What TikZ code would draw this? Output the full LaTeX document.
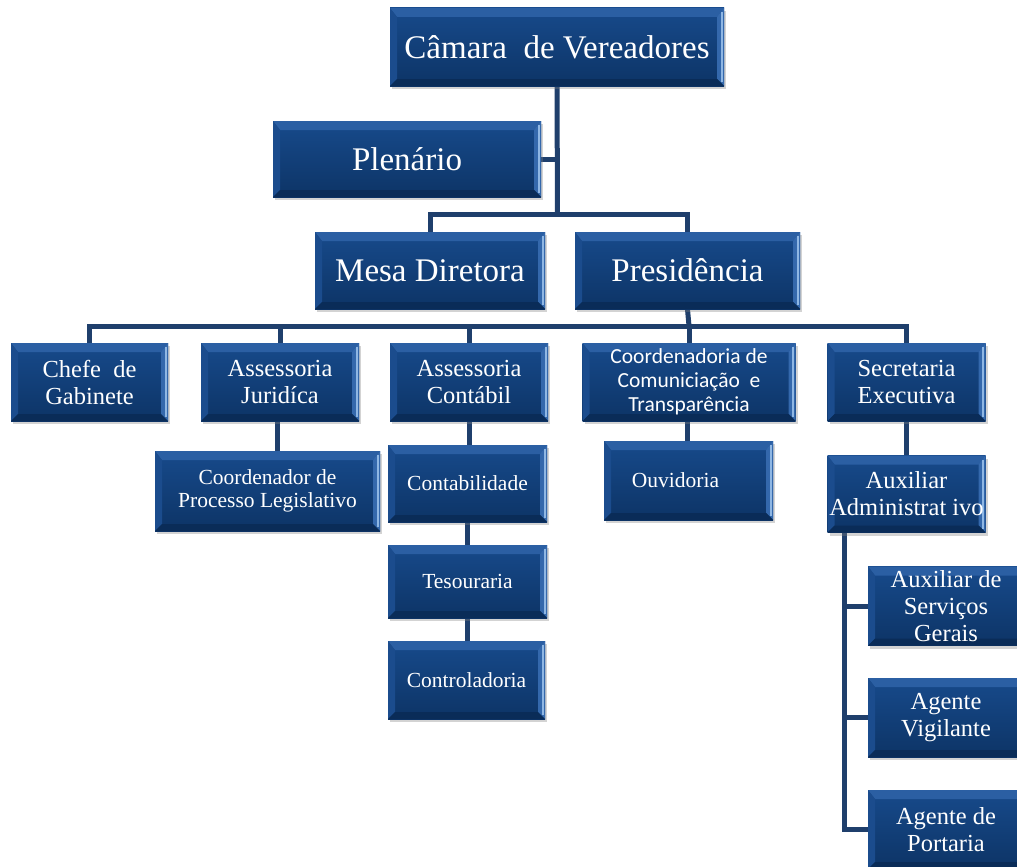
\documentclass[tikz,border=0pt]{standalone}
\usepackage{fontspec}
\setmainfont{Liberation Serif}
\newfontfamily\calfont{Carlito}
\usetikzlibrary{shadows,backgrounds}
\definecolor{boxtop}{HTML}{174A8B}
\definecolor{boxbot}{HTML}{0D3466}
\definecolor{linecol}{HTML}{1F3F6C}
\definecolor{bevtop}{HTML}{2B5FA3}
\definecolor{bevleft}{HTML}{1B4C8D}
\definecolor{bevright}{HTML}{3468AC}
\definecolor{bevbot}{HTML}{0A2C58}
\definecolor{highl}{HTML}{A6CBF2}
\tikzset{
  bevelbox/.style={rectangle, inner sep=0pt, text=white, align=center,
    top color=boxtop, bottom color=boxbot,
    drop shadow={shadow xshift=2pt, shadow yshift=-3pt, opacity=0.35},
    path picture={
      \path (path picture bounding box.north west) coordinate (bnw)
            (path picture bounding box.north east) coordinate (bne)
            (path picture bounding box.south west) coordinate (bsw)
            (path picture bounding box.south east) coordinate (bse);
      \fill[bevtop] (bnw) -- (bne) -- ([xshift=-7pt,yshift=-9pt]bne) -- ([xshift=7pt,yshift=-9pt]bnw) -- cycle;
      \fill[bevleft] (bnw) -- ([xshift=7pt,yshift=-9pt]bnw) -- ([xshift=7pt,yshift=7pt]bsw) -- (bsw) -- cycle;
      \fill[bevright] (bne) -- ([xshift=-7pt,yshift=-9pt]bne) -- ([xshift=-7pt,yshift=7pt]bse) -- (bse) -- cycle;
      \fill[bevbot] (bsw) -- ([xshift=7pt,yshift=7pt]bsw) -- ([xshift=-7pt,yshift=7pt]bse) -- (bse) -- cycle;
      \fill[highl,opacity=0.8] ([xshift=-3.5pt,yshift=-4pt]bne) rectangle ([xshift=-1.5pt,yshift=4pt]bse);
    }},
  big/.style={bevelbox, font=\fontsize{33}{36}\selectfont},
  mid/.style={bevelbox, font=\fontsize{24.5}{27}\selectfont},
  small/.style={bevelbox, font=\fontsize{21.5}{23}\selectfont},
  sans/.style={bevelbox, font=\calfont\fontsize{21.5}{24}\selectfont},
  conn/.style={draw=linecol, line width=5pt},
}
\begin{document}
\begin{tikzpicture}[x=1pt,y=-1pt]
\useasboundingbox (0,0) rectangle (1017,867);
% level 1-2
\node[big, minimum width=334pt, minimum height=78pt] (cam) at (557,47) {Câmara~ de Vereadores};
\node[big, minimum width=268pt, minimum height=76pt] (plen) at (407,159) {Plenário};
\node[big, minimum width=230pt, minimum height=77pt] (mesa) at (430,270.5) {Mesa Diretora};
\node[big, minimum width=225pt, minimum height=77pt] (pres) at (687.5,270.5) {Presidência};
% level 3
\node[mid, minimum width=157pt, minimum height=78pt] (chefe) at (89.5,382) {Chefe~ de\\Gabinete};
\node[mid, minimum width=158pt, minimum height=78pt] (jur) at (280,382) {Assessoria\\Juridíca};
\node[mid, minimum width=158pt, minimum height=78pt] (cont) at (469,382) {Assessoria\\Contábil};
\node[sans, minimum width=213pt, minimum height=78pt] (coord) at (689,382) {Coordenadoria de\\Comuniciação~ e\\Transparência};
\node[mid, minimum width=158pt, minimum height=78pt] (sec) at (906.5,382) {Secretaria\\Executiva};
% level 4
\node[small, minimum width=225pt, minimum height=80pt] (cpl) at (267.5,491) {Coordenador de\\Processo Legislativo};
\node[small, minimum width=159pt, minimum height=77pt] (ctb) at (467.5,483.5) {Contabilidade};
\node[small, minimum width=159pt, minimum height=73pt] (tes) at (467.5,581.5) {Tesouraria};
\node[small, minimum width=157pt, minimum height=78pt] (ctl) at (466.5,680) {Controladoria};
\node[small, minimum width=169pt, minimum height=79pt] (ouv) at (688.5,480.5) {Ouvidoria\hspace*{26pt}};
\node[mid, minimum width=158pt, minimum height=77pt] (aux) at (906.5,494) {Auxiliar\\Administrat ivo};
\node[mid, minimum width=156pt, minimum height=79pt] (asg) at (946,606) {Auxiliar de\\Serviços\\Gerais};
\node[mid, minimum width=156pt, minimum height=79pt] (vig) at (946,717.5) {Agente\\Vigilante};
\node[mid, minimum width=156pt, minimum height=79pt] (port) at (946,829.5) {Agente de\\Portaria};
% connectors
\begin{scope}[on background layer]
\coordinate (j1) at (557.5,214);
\coordinate (j2) at (689,326);
\draw[conn] (cam.south) -- (j1);
\draw[conn] (plen.east) -- (plen.east -| j1);
\draw[conn] (mesa.north) |- (j1) -| (pres.north);
\draw[conn] (pres.south) -- (j2);
\draw[conn] (chefe.north) |- (j2) -| (sec.north);
\draw[conn] (jur.north) -- (jur.north |- j2);
\draw[conn] (cont.north) -- (cont.north |- j2);
\draw[conn] (coord.north) -- (coord.north |- j2);
\draw[conn] ([xshift=-3pt]jur.south) -- ([xshift=-3pt]jur.south |- cpl.north);
\draw[conn] (cont.south) -- (cont.south |- ctb.north);
\draw[conn] (ctb.south) -- (ctb.south |- tes.north);
\draw[conn] (tes.south) -- (tes.south |- ctl.north);
\draw[conn] ([xshift=-2pt]coord.south) -- ([xshift=-2pt]coord.south |- ouv.north);
\draw[conn] (sec.south) -- (aux.north);
\coordinate (tr) at ([xshift=17pt]aux.south west);
\draw[conn] (tr) |- (port.west);
\draw[conn] (tr |- asg.west) -- (asg.west);
\draw[conn] (tr |- vig.west) -- (vig.west);
\end{scope}
\end{tikzpicture}
\end{document}
